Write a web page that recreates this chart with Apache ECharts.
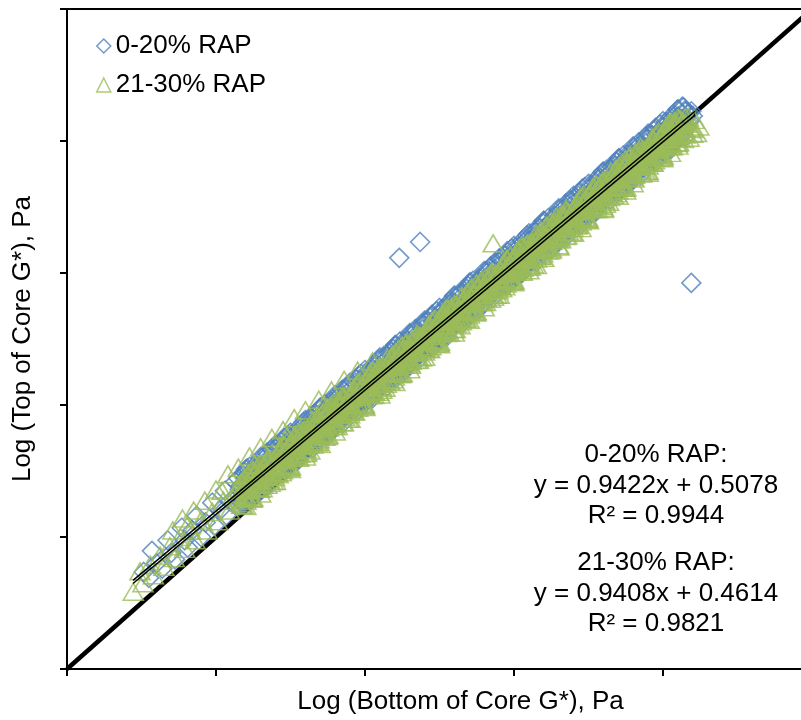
<!DOCTYPE html>
<html>
<head>
<meta charset="utf-8">
<script src="https://cdn.jsdelivr.net/npm/echarts@6/dist/echarts.min.js"></script>
<style>
html, body { margin: 0; padding: 0; background: #fff; }
#chart { width: 801px; height: 720px; }
</style>
</head>
<body>
<div id="chart"></div>
<script>
// Regression summary for each RAP group
const seriesNames = ['0-20% RAP', '21-30% RAP'];
const slopes = [0.9422, 0.9408];
const intercepts = [0.5078, 0.4614];
const rSquared = [0.9944, 0.9821];
const trendRange = [0.886, 8.43];
const equalityLine = [[0, 0], [10, 10]];

// Log G* pairs: [bottom of core, top of core]
const rap0to20 = [
  [1.03,1.47],[1.10,1.38],[1.14,1.79],[1.20,1.60],[1.28,1.52],[1.35,1.95],[1.40,1.76],[1.45,1.66],
  [1.54,2.14],[1.58,1.95],[1.62,1.84],[1.68,2.10],[1.74,2.32],[1.80,2.00],[1.86,2.22],[1.95,2.52],
  [1.98,2.17],[2.05,2.40],[2.12,2.70],[2.14,2.33],[2.20,2.55],[2.26,2.84],[2.28,2.47],
  [2.3,2.89],[2.325,2.55],[2.35,2.76],[2.375,2.52],[2.4,2.9],[2.425,2.73],[2.45,3.06],[2.475,2.65],[2.5,2.95],[2.525,2.78],
  [2.55,3.08],[2.575,2.69],[2.6,2.97],[2.625,2.81],[2.65,3.2],[2.675,3.01],[2.7,3.16],[2.725,2.87],[2.75,3.33],[2.775,3.03],
  [2.8,2.95],[2.825,3.24],[2.85,3.06],[2.875,3.44],[2.9,3.23],[2.925,3.41],[2.95,3.04],[2.975,3.36],[3.0,3.17],[3.025,3.56],
  [3.05,3.31],[3.075,3.53],[3.1,3.21],[3.125,3.63],[3.15,3.44],[3.175,3.74],[3.2,3.38],[3.225,3.61],[3.25,3.38],[3.275,3.73],
  [3.3,3.65],[3.325,3.43],[3.35,3.85],[3.375,3.59],[3.4,3.96],[3.425,3.56],[3.45,3.84],[3.475,3.75],[3.5,3.97],[3.525,3.6],
  [3.55,3.96],[3.575,3.76],[3.6,4.12],[3.625,3.87],[3.65,4.01],[3.675,3.77],[3.7,4.13],[3.725,3.86],[3.75,4.04],[3.775,4.27],
  [3.8,4.3],[3.825,3.96],[3.85,4.18],[3.875,3.93],[3.9,4.31],[3.925,4.15],[3.95,4.47],[3.975,4.06],[4.0,4.37],[4.025,4.19],
  [4.05,4.49],[4.075,4.11],[4.1,4.38],[4.125,4.22],[4.15,4.61],[4.175,4.42],[4.2,4.58],[4.225,4.28],[4.25,4.74],[4.275,4.45],
  [4.3,4.36],[4.325,4.65],[4.35,4.48],[4.375,4.85],[4.4,4.64],[4.425,4.83],[4.45,4.45],[4.475,4.77],[4.5,4.59],[4.525,4.97],
  [4.55,4.73],[4.575,4.94],[4.6,4.62],[4.625,5.05],[4.65,4.85],[4.675,5.15],[4.7,4.8],[4.725,5.02],[4.75,4.79],[4.775,5.15],
  [4.8,5.06],[4.825,4.84],[4.85,5.27],[4.875,5.0],[4.9,5.37],[4.925,4.97],[4.95,5.25],[4.975,5.17],[5.0,5.38],[5.025,5.01],
  [5.05,5.38],[5.075,5.17],[5.1,5.53],[5.125,5.29],[5.15,5.42],[5.175,5.18],[5.2,5.55],[5.225,5.27],[5.25,5.45],[5.275,5.68],
  [5.3,5.71],[5.325,5.38],[5.35,5.59],[5.375,5.34],[5.4,5.73],[5.425,5.56],[5.45,5.88],[5.475,5.48],[5.5,5.78],[5.525,5.6],
  [5.55,5.91],[5.575,5.52],[5.6,5.8],[5.625,5.64],[5.65,6.02],[5.675,5.84],[5.7,5.99],[5.725,5.69],[5.75,6.16],[5.775,5.86],
  [5.8,5.77],[5.825,6.07],[5.85,5.89],[5.875,6.26],[5.9,6.06],[5.925,6.24],[5.95,5.86],[5.975,6.19],[6.0,6.0],[6.025,6.39],
  [6.05,6.14],[6.075,6.35],[6.1,6.04],[6.125,6.46],[6.15,6.26],[6.175,6.57],[6.2,6.21],[6.225,6.43],[6.25,6.21],[6.275,6.56],
  [6.3,6.47],[6.325,6.26],[6.35,6.68],[6.375,6.42],[6.4,6.79],[6.425,6.38],[6.45,6.67],[6.475,6.58],[6.5,6.79],[6.525,6.43],
  [6.55,6.79],[6.575,6.58],[6.6,6.95],[6.625,6.7],[6.65,6.83],[6.675,6.6],[6.7,6.96],[6.725,6.68],[6.75,6.87],[6.775,7.09],
  [6.8,7.13],[6.825,6.79],[6.85,7.0],[6.875,6.76],[6.9,7.14],[6.925,6.97],[6.95,7.3],[6.975,6.89],[7.0,7.19],[7.025,7.02],
  [7.05,7.32],[7.075,6.93],[7.1,7.21],[7.125,7.05],[7.15,7.44],[7.175,7.25],[7.2,7.4],[7.225,7.11],[7.25,7.57],[7.275,7.27],
  [7.3,7.19],[7.325,7.48],[7.35,7.3],[7.375,7.68],[7.4,7.47],[7.425,7.65],[7.45,7.28],[7.475,7.6],[7.5,7.41],[7.525,7.8],
  [7.55,7.55],[7.575,7.77],[7.6,7.45],[7.625,7.87],[7.65,7.68],[7.675,7.98],[7.7,7.62],[7.725,7.85],[7.75,7.62],[7.775,7.97],
  [7.8,7.89],[7.825,7.67],[7.85,8.09],[7.875,7.83],[7.9,8.2],[7.925,7.8],[7.95,8.08],[7.975,7.99],[8.0,8.21],[8.025,7.84],
  [8.05,8.2],[8.075,8.0],[8.1,8.36],[8.125,8.11],[8.15,8.25],[8.175,8.01],[8.2,8.37],[8.225,8.1],[8.25,8.28],[8.275,8.51],
  [2.31,2.48],[2.335,2.78],[2.36,2.6],[2.385,2.98],[2.41,2.77],[2.435,2.95],[2.46,2.58],[2.485,2.9],[2.51,2.71],[2.535,3.1],
  [2.56,2.85],[2.585,3.06],[2.61,2.75],[2.635,3.17],[2.66,2.97],[2.685,3.28],[2.71,2.92],[2.735,3.14],[2.76,2.92],[2.785,3.27],
  [2.81,3.19],[2.835,2.97],[2.86,3.39],[2.885,3.13],[2.91,3.5],[2.935,3.09],[2.96,3.38],[2.985,3.29],[3.01,3.5],[3.035,3.14],
  [3.06,3.5],[3.085,3.29],[3.11,3.66],[3.135,3.41],[3.16,3.55],[3.185,3.31],[3.21,3.67],[3.235,3.4],[3.26,3.58],[3.285,3.8],
  [3.31,3.84],[3.335,3.5],[3.36,3.71],[3.385,3.47],[3.41,3.85],[3.435,3.68],[3.46,4.01],[3.485,3.6],[3.51,3.9],[3.535,3.73],
  [3.56,4.03],[3.585,3.65],[3.61,3.92],[3.635,3.76],[3.66,4.15],[3.685,3.96],[3.71,4.11],[3.735,3.82],[3.76,4.28],[3.785,3.98],
  [3.81,3.9],[3.835,4.19],[3.86,4.01],[3.885,4.39],[3.91,4.18],[3.935,4.37],[3.96,3.99],[3.985,4.31],[4.01,4.13],[4.035,4.51],
  [4.06,4.26],[4.085,4.48],[4.11,4.16],[4.135,4.58],[4.16,4.39],[4.185,4.69],[4.21,4.33],[4.235,4.56],[4.26,4.33],[4.285,4.69],
  [4.31,4.6],[4.335,4.38],[4.36,4.81],[4.385,4.54],[4.41,4.91],[4.435,4.51],[4.46,4.79],[4.485,4.7],[4.51,4.92],[4.535,4.55],
  [4.56,4.91],[4.585,4.71],[4.61,5.07],[4.635,4.82],[4.66,4.96],[4.685,4.72],[4.71,5.09],[4.735,4.81],[4.76,4.99],[4.785,5.22],
  [4.81,5.25],[4.835,4.91],[4.86,5.13],[4.885,4.88],[4.91,5.26],[4.935,5.1],[4.96,5.42],[4.985,5.01],[5.01,5.32],[5.035,5.14],
  [5.06,5.45],[5.085,5.06],[5.11,5.33],[5.135,5.18],[5.16,5.56],[5.185,5.37],[5.21,5.53],[5.235,5.23],[5.26,5.69],[5.285,5.4],
  [5.31,5.31],[5.335,5.61],[5.36,5.43],[5.385,5.8],[5.41,5.6],[5.435,5.78],[5.46,5.4],[5.485,5.73],[5.51,5.54],[5.535,5.92],
  [5.56,5.68],[5.585,5.89],[5.61,5.57],[5.635,6.0],[5.66,5.8],[5.685,6.1],[5.71,5.75],[5.735,5.97],[5.76,5.75],[5.785,6.1],
  [5.81,6.01],[5.835,5.8],[5.86,6.22],[5.885,5.95],[5.91,6.33],[5.935,5.92],[5.96,6.2],[5.985,6.12],[6.01,6.33],[6.035,5.96],
  [6.06,6.33],[6.085,6.12],[6.11,6.49],[6.135,6.24],[6.16,6.37],[6.185,6.14],[6.21,6.5],[6.235,6.22],[6.26,6.41],[6.285,6.63],
  [6.31,6.66],[6.335,6.33],[6.36,6.54],[6.385,6.29],[6.41,6.68],[6.435,6.51],[6.46,6.83],[6.485,6.43],[6.51,6.73],[6.535,6.56],
  [6.56,6.86],[6.585,6.47],[6.61,6.75],[6.635,6.59],[6.66,6.97],[6.685,6.79],[6.71,6.94],[6.735,6.64],[6.76,7.11],[6.785,6.81],
  [6.81,6.72],[6.835,7.02],[6.86,6.84],[6.885,7.22],[6.91,7.01],[6.935,7.19],[6.96,6.82],[6.985,7.14],[7.01,6.95],[7.035,7.34],
  [7.06,7.09],[7.085,7.3],[7.11,6.99],[7.135,7.41],[7.16,7.21],[7.185,7.52],[7.21,7.16],[7.235,7.38],[7.26,7.16],[7.285,7.51],
  [7.31,7.43],[7.335,7.21],[7.36,7.63],[7.385,7.37],[7.41,7.74],[7.435,7.33],[7.46,7.62],[7.485,7.53],[7.51,7.74],[7.535,7.38],
  [7.56,7.74],[7.585,7.53],[7.61,7.9],[7.635,7.65],[7.66,7.79],[7.685,7.55],[7.71,7.91],[7.735,7.64],[7.76,7.82],[7.785,8.04],
  [7.81,8.08],[7.835,7.74],[7.86,7.95],[7.885,7.71],[7.91,8.09],[7.935,7.92],[7.96,8.25],[7.985,7.84],[8.01,8.14],[8.035,7.97],
  [8.06,8.27],[8.085,7.89],[8.11,8.16],[8.135,8.0],[8.16,8.39],[8.185,8.2],[8.21,8.35],[8.235,8.06],[8.26,8.52],[8.285,8.22],
  [2.318,2.72],[2.343,2.51],[2.368,2.93],[2.393,2.66],[2.418,3.04],[2.443,2.63],[2.468,2.91],[2.493,2.83],[2.518,3.04],[2.543,2.67],
  [2.568,3.04],[2.593,2.83],[2.618,3.2],[2.643,2.95],[2.668,3.08],[2.693,2.85],[2.718,3.21],[2.743,2.93],[2.768,3.12],[2.793,3.34],
  [2.818,3.37],[2.843,3.04],[2.868,3.25],[2.893,3.0],[2.918,3.39],[2.943,3.22],[2.968,3.54],[2.993,3.14],[3.018,3.44],[3.043,3.27],
  [3.068,3.57],[3.093,3.18],[3.118,3.46],[3.143,3.3],[3.168,3.68],[3.193,3.5],[3.218,3.65],[3.243,3.35],[3.268,3.82],[3.293,3.52],
  [3.318,3.43],[3.343,3.73],[3.368,3.55],[3.393,3.93],[3.418,3.72],[3.443,3.9],[3.468,3.53],[3.493,3.85],[3.518,3.66],[3.543,4.05],
  [3.568,3.8],[3.593,4.01],[3.618,3.7],[3.643,4.12],[3.668,3.92],[3.693,4.23],[3.718,3.87],[3.743,4.09],[3.768,3.87],[3.793,4.22],
  [3.818,4.14],[3.843,3.92],[3.868,4.34],[3.893,4.08],[3.918,4.45],[3.943,4.04],[3.968,4.33],[3.993,4.24],[4.018,4.45],[4.043,4.09],
  [4.068,4.45],[4.093,4.24],[4.118,4.61],[4.143,4.36],[4.168,4.5],[4.193,4.26],[4.218,4.62],[4.243,4.35],[4.268,4.53],[4.293,4.75],
  [4.318,4.79],[4.343,4.45],[4.368,4.66],[4.393,4.42],[4.418,4.8],[4.443,4.63],[4.468,4.96],[4.493,4.55],[4.518,4.85],[4.543,4.68],
  [4.568,4.98],[4.593,4.6],[4.618,4.87],[4.643,4.71],[4.668,5.1],[4.693,4.91],[4.718,5.06],[4.743,4.77],[4.768,5.23],[4.793,4.93],
  [4.818,4.85],[4.843,5.14],[4.868,4.96],[4.893,5.34],[4.918,5.13],[4.943,5.32],[4.968,4.94],[4.993,5.26],[5.018,5.08],[5.043,5.46],
  [5.068,5.21],[5.093,5.43],[5.118,5.11],[5.143,5.53],[5.168,5.34],[5.193,5.64],[5.218,5.28],[5.243,5.51],[5.268,5.28],[5.293,5.64],
  [5.318,5.55],[5.343,5.33],[5.368,5.76],[5.393,5.49],[5.418,5.86],[5.443,5.46],[5.468,5.74],[5.493,5.65],[5.518,5.87],[5.543,5.5],
  [5.568,5.87],[5.593,5.66],[5.618,6.02],[5.643,5.78],[5.668,5.91],[5.693,5.67],[5.718,6.04],[5.743,5.76],[5.768,5.94],[5.793,6.17],
  [5.818,6.2],[5.843,5.86],[5.868,6.08],[5.893,5.83],[5.918,6.21],[5.943,6.05],[5.968,6.37],[5.993,5.97],[6.018,6.27],[6.043,6.09],
  [6.068,6.4],[6.093,6.01],[6.118,6.28],[6.143,6.13],[6.168,6.51],[6.193,6.32],[6.218,6.48],[6.243,6.18],[6.268,6.64],[6.293,6.35],
  [6.318,6.26],[6.343,6.56],[6.368,6.38],[6.393,6.75],[6.418,6.55],[6.443,6.73],[6.468,6.35],[6.493,6.68],[6.518,6.49],[6.543,6.87],
  [6.568,6.63],[6.593,6.84],[6.618,6.52],[6.643,6.95],[6.668,6.75],[6.693,7.05],[6.718,6.7],[6.743,6.92],[6.768,6.7],[6.793,7.05],
  [6.818,6.96],[6.843,6.75],[6.868,7.17],[6.893,6.9],[6.918,7.28],[6.943,6.87],[6.968,7.15],[6.993,7.07],[7.018,7.28],[7.043,6.91],
  [7.068,7.28],[7.093,7.07],[7.118,7.44],[7.143,7.19],[7.168,7.32],[7.193,7.09],[7.218,7.45],[7.243,7.17],[7.268,7.36],[7.293,7.58],
  [7.318,7.61],[7.343,7.28],[7.368,7.49],[7.393,7.24],[7.418,7.63],[7.443,7.46],[7.468,7.78],[7.493,7.38],[7.518,7.68],[7.543,7.51],
  [7.568,7.81],[7.593,7.42],[7.618,7.7],[7.643,7.54],[7.668,7.92],[7.693,7.74],[7.718,7.89],[7.743,7.59],[7.768,8.06],[7.793,7.76],
  [7.818,7.67],[7.843,7.97],[7.868,7.79],[7.893,8.17],[7.918,7.96],[7.943,8.14],[7.968,7.77],[7.993,8.09],[8.018,7.9],[8.043,8.29],
  [8.068,8.04],[8.093,8.25],[8.118,7.94],[8.143,8.36],[8.168,8.16],[8.193,8.47],[8.218,8.11],[8.243,8.33],[8.268,8.11],[8.293,8.46],
  [2.4,3.02],[2.6,3.21],[2.8,3.40],[3.0,3.58],[3.2,3.77],[3.4,3.96],[3.6,4.15],[3.8,4.34],[4.0,4.53],[4.2,4.72],
  [4.4,4.90],[4.6,5.09],[4.8,5.28],[5.0,5.47],[5.2,5.66],[5.4,5.85],[5.6,6.03],[5.8,6.22],[6.0,6.41],[6.2,6.60],
  [6.4,6.79],[6.6,6.98],[6.8,7.17],[7.0,7.35],[7.2,7.54],[7.4,7.73],[7.6,7.92],[7.8,8.11],[8.0,8.30],[8.2,8.48],
  [2.5,2.59],[2.7,2.78],[2.9,2.97],[3.1,3.16],[3.3,3.35],[3.5,3.54],[3.7,3.72],[3.9,3.91],[4.1,4.10],[4.3,4.29],
  [4.5,4.48],[4.7,4.67],[4.9,4.86],[5.1,5.04],[5.3,5.23],[5.5,5.42],[5.7,5.61],[5.9,5.80],[6.1,5.99],[6.3,6.17],
  [6.5,6.36],[6.7,6.55],[6.9,6.74],[7.1,6.93],[7.3,7.12],[7.5,7.30],[7.7,7.49],[7.9,7.68],[8.1,7.87],[8.3,8.06],
  [8.3,8.33],[8.3,8.44],[8.32,8.2],[8.34,8.42],[8.36,8.3],[8.38,8.45],[8.4,8.38],
  [4.46,6.23],[4.74,6.47],[8.38,5.85]
];

const rap21to30 = [
  [0.89,1.17],[0.98,1.48],[1.02,1.30],[1.12,1.58],[1.16,1.42],[1.25,1.72],[1.30,1.55],[1.38,1.86],
  [1.42,2.10],[1.44,1.68],[1.52,2.00],[1.55,2.28],[1.58,1.82],[1.62,2.18],[1.66,2.10],[1.70,2.40],
  [1.72,1.95],[1.80,2.25],[1.85,2.55],[1.88,2.10],[1.95,2.38],[2.00,2.72],[2.02,2.24],[2.08,2.70],
  [2.10,2.55],[2.16,2.95],[2.18,2.40],[2.24,2.65],[2.30,3.05],[2.45,3.22],[2.52,3.10],[2.60,3.36],
  [2.75,3.50],[2.90,3.62],[2.95,3.52],[3.05,3.80],[3.20,3.92],[3.38,4.08],[3.45,4.00],[3.55,4.22],
  [3.72,4.38],[3.90,4.52],[4.10,4.66],
  [2.31,2.59],[2.335,2.82],[2.36,2.49],[2.385,2.8],[2.41,2.61],[2.435,2.95],[2.46,2.76],[2.485,2.58],[2.51,2.94],[2.535,2.76],
  [2.56,2.92],[2.585,2.73],[2.61,3.1],[2.635,2.9],[2.66,3.07],[2.685,2.79],[2.71,3.15],[2.735,2.93],[2.76,3.08],[2.785,2.91],
  [2.81,3.22],[2.835,2.95],[2.86,3.18],[2.885,3.1],[2.91,3.39],[2.935,3.08],[2.96,3.32],[2.985,3.06],[3.01,3.44],[3.035,3.31],
  [3.06,3.54],[3.085,3.26],[3.11,3.2],[3.135,3.54],[3.16,3.38],[3.185,3.63],[3.21,3.33],[3.235,3.57],[3.26,3.31],[3.285,3.64],
  [3.31,3.45],[3.335,3.64],[3.36,3.81],[3.385,3.48],[3.41,3.75],[3.435,3.63],[3.46,3.52],[3.485,3.87],[3.51,3.66],[3.535,3.97],
  [3.56,3.78],[3.585,3.94],[3.61,3.72],[3.635,3.89],[3.66,4.07],[3.685,3.85],[3.71,3.74],[3.735,4.1],[3.76,4.07],[3.785,3.9],
  [3.81,4.0],[3.835,4.23],[3.86,3.9],[3.885,4.21],[3.91,4.02],[3.935,4.36],[3.96,4.17],[3.985,3.99],[4.01,4.35],[4.035,4.17],
  [4.06,4.33],[4.085,4.15],[4.11,4.51],[4.135,4.31],[4.16,4.48],[4.185,4.2],[4.21,4.56],[4.235,4.34],[4.26,4.49],[4.285,4.32],
  [4.31,4.63],[4.335,4.36],[4.36,4.59],[4.385,4.51],[4.41,4.8],[4.435,4.49],[4.46,4.73],[4.485,4.47],[4.51,4.85],[4.535,4.72],
  [4.56,4.95],[4.585,4.68],[4.61,4.61],[4.635,4.95],[4.66,4.79],[4.685,5.04],[4.71,4.74],[4.735,4.98],[4.76,4.72],[4.785,5.05],
  [4.81,4.86],[4.835,5.05],[4.86,5.22],[4.885,4.89],[4.91,5.16],[4.935,5.05],[4.96,4.93],[4.985,5.28],[5.01,5.08],[5.035,5.38],
  [5.06,5.19],[5.085,5.36],[5.11,5.13],[5.135,5.3],[5.16,5.48],[5.185,5.26],[5.21,5.15],[5.235,5.51],[5.26,5.48],[5.285,5.32],
  [5.31,5.41],[5.335,5.64],[5.36,5.31],[5.385,5.62],[5.41,5.43],[5.435,5.78],[5.46,5.58],[5.485,5.4],[5.51,5.77],[5.535,5.58],
  [5.56,5.74],[5.585,5.56],[5.61,5.92],[5.635,5.72],[5.66,5.89],[5.685,5.61],[5.71,5.97],[5.735,5.75],[5.76,5.9],[5.785,5.74],
  [5.81,6.04],[5.835,5.77],[5.86,6.0],[5.885,5.92],[5.91,6.21],[5.935,5.91],[5.96,6.14],[5.985,5.88],[6.01,6.27],[6.035,6.13],
  [6.06,6.36],[6.085,6.09],[6.11,6.02],[6.135,6.36],[6.16,6.2],[6.185,6.45],[6.21,6.15],[6.235,6.39],[6.26,6.13],[6.285,6.47],
  [6.31,6.27],[6.335,6.46],[6.36,6.64],[6.385,6.3],[6.41,6.57],[6.435,6.46],[6.46,6.34],[6.485,6.69],[6.51,6.49],[6.535,6.79],
  [6.56,6.6],[6.585,6.77],[6.61,6.54],[6.635,6.71],[6.66,6.89],[6.685,6.67],[6.71,6.57],[6.735,6.92],[6.76,6.89],[6.785,6.73],
  [6.81,6.82],[6.835,7.05],[6.86,6.73],[6.885,7.03],[6.91,6.84],[6.935,7.19],[6.96,6.99],[6.985,6.81],[7.01,7.18],[7.035,6.99],
  [7.06,7.15],[7.085,6.97],[7.11,7.33],[7.135,7.13],[7.16,7.3],[7.185,7.02],[7.21,7.39],[7.235,7.16],[7.26,7.31],[7.285,7.15],
  [7.31,7.45],[7.335,7.18],[7.36,7.42],[7.385,7.33],[7.41,7.62],[7.435,7.32],[7.46,7.55],[7.485,7.29],[7.51,7.68],[7.535,7.54],
  [7.56,7.78],[7.585,7.5],[7.61,7.43],[7.635,7.78],[7.66,7.61],[7.685,7.86],[7.71,7.57],[7.735,7.8],[7.76,7.54],[7.785,7.88],
  [7.81,7.68],[7.835,7.87],[7.86,8.05],[7.885,7.71],[7.91,7.98],[7.935,7.87],[7.96,7.75],[7.985,8.1],[8.01,7.9],[8.035,8.2],
  [8.06,8.02],[8.085,8.18],[8.11,7.95],[8.135,8.13],[8.16,8.3],[8.185,8.08],[8.21,7.98],[8.235,8.33],[8.26,8.3],[8.285,8.14],
  [2.318,2.75],[2.343,2.49],[2.368,2.72],[2.393,2.63],[2.418,2.93],[2.443,2.62],[2.468,2.85],[2.493,2.6],[2.518,2.98],[2.543,2.85],
  [2.568,3.08],[2.593,2.8],[2.618,2.74],[2.643,3.08],[2.668,2.91],[2.693,3.17],[2.718,2.87],[2.743,3.1],[2.768,2.85],[2.793,3.18],
  [2.818,2.98],[2.843,3.18],[2.868,3.35],[2.893,3.01],[2.918,3.29],[2.943,3.17],[2.968,3.05],[2.993,3.41],[3.018,3.2],[3.043,3.51],
  [3.068,3.32],[3.093,3.48],[3.118,3.26],[3.143,3.43],[3.168,3.6],[3.193,3.39],[3.218,3.28],[3.243,3.63],[3.268,3.61],[3.293,3.44],
  [3.318,3.53],[3.343,3.77],[3.368,3.44],[3.393,3.74],[3.418,3.56],[3.443,3.9],[3.468,3.7],[3.493,3.53],[3.518,3.89],[3.543,3.71],
  [3.568,3.87],[3.593,3.68],[3.618,4.05],[3.643,3.85],[3.668,4.01],[3.693,3.74],[3.718,4.1],[3.743,3.87],[3.768,4.03],[3.793,3.86],
  [3.818,4.16],[3.843,3.9],[3.868,4.13],[3.893,4.05],[3.918,4.34],[3.943,4.03],[3.968,4.27],[3.993,4.01],[4.018,4.39],[4.043,4.26],
  [4.068,4.49],[4.093,4.21],[4.118,4.15],[4.143,4.49],[4.168,4.32],[4.193,4.58],[4.218,4.28],[4.243,4.51],[4.268,4.26],[4.293,4.59],
  [4.318,4.39],[4.343,4.59],[4.368,4.76],[4.393,4.43],[4.418,4.7],[4.443,4.58],[4.468,4.47],[4.493,4.82],[4.518,4.61],[4.543,4.92],
  [4.568,4.73],[4.593,4.89],[4.618,4.67],[4.643,4.84],[4.668,5.01],[4.693,4.8],[4.718,4.69],[4.743,5.04],[4.768,5.02],[4.793,4.85],
  [4.818,4.95],[4.843,5.18],[4.868,4.85],[4.893,5.16],[4.918,4.97],[4.943,5.31],[4.968,5.12],[4.993,4.94],[5.018,5.3],[5.043,5.12],
  [5.068,5.28],[5.093,5.09],[5.118,5.46],[5.143,5.26],[5.168,5.43],[5.193,5.15],[5.218,5.51],[5.243,5.29],[5.268,5.44],[5.293,5.27],
  [5.318,5.58],[5.343,5.31],[5.368,5.54],[5.393,5.46],[5.418,5.75],[5.443,5.44],[5.468,5.68],[5.493,5.42],[5.518,5.8],[5.543,5.67],
  [5.568,5.9],[5.593,5.62],[5.618,5.56],[5.643,5.9],[5.668,5.74],[5.693,5.99],[5.718,5.69],[5.743,5.93],[5.768,5.67],[5.793,6.0],
  [5.818,5.81],[5.843,6.0],[5.868,6.17],[5.893,5.84],[5.918,6.11],[5.943,5.99],[5.968,5.88],[5.993,6.23],[6.018,6.02],[6.043,6.33],
  [6.068,6.14],[6.093,6.3],[6.118,6.08],[6.143,6.25],[6.168,6.43],[6.193,6.21],[6.218,6.1],[6.243,6.46],[6.268,6.43],[6.293,6.26],
  [6.318,6.36],[6.343,6.59],[6.368,6.26],[6.393,6.57],[6.418,6.38],[6.443,6.72],[6.468,6.53],[6.493,6.35],[6.518,6.71],[6.543,6.53],
  [6.568,6.69],[6.593,6.51],[6.618,6.87],[6.643,6.67],[6.668,6.84],[6.693,6.56],[6.718,6.92],[6.743,6.7],[6.768,6.85],[6.793,6.68],
  [6.818,6.99],[6.843,6.72],[6.868,6.95],[6.893,6.87],[6.918,7.16],[6.943,6.85],[6.968,7.09],[6.993,6.83],[7.018,7.21],[7.043,7.08],
  [7.068,7.31],[7.093,7.04],[7.118,6.97],[7.143,7.31],[7.168,7.15],[7.193,7.4],[7.218,7.1],[7.243,7.34],[7.268,7.08],[7.293,7.41],
  [7.318,7.22],[7.343,7.41],[7.368,7.58],[7.393,7.25],[7.418,7.52],[7.443,7.41],[7.468,7.29],[7.493,7.64],[7.518,7.44],[7.543,7.74],
  [7.568,7.55],[7.593,7.72],[7.618,7.49],[7.643,7.66],[7.668,7.84],[7.693,7.62],[7.718,7.51],[7.743,7.87],[7.768,7.84],[7.793,7.68],
  [7.818,7.77],[7.843,8.0],[7.868,7.67],[7.893,7.98],[7.918,7.79],[7.943,8.14],[7.968,7.94],[7.993,7.76],[8.018,8.13],[8.043,7.94],
  [8.068,8.1],[8.093,7.92],[8.118,8.28],[8.143,8.08],[8.168,8.25],[8.193,7.97],[8.218,8.33],[8.243,8.11],[8.268,8.26],[8.293,8.1],
  [2.326,2.52],[2.351,2.71],[2.376,2.89],[2.401,2.55],[2.426,2.82],[2.451,2.71],[2.476,2.59],[2.501,2.95],[2.526,2.74],[2.551,3.04],
  [2.576,2.86],[2.601,3.02],[2.626,2.79],[2.651,2.97],[2.676,3.14],[2.701,2.92],[2.726,2.82],[2.751,3.17],[2.776,3.14],[2.801,2.98],
  [2.826,3.07],[2.851,3.3],[2.876,2.98],[2.901,3.28],[2.926,3.09],[2.951,3.44],[2.976,3.24],[3.001,3.07],[3.026,3.43],[3.051,3.24],
  [3.076,3.41],[3.101,3.22],[3.126,3.58],[3.151,3.39],[3.176,3.55],[3.201,3.27],[3.226,3.64],[3.251,3.41],[3.276,3.56],[3.301,3.4],
  [3.326,3.7],[3.351,3.43],[3.376,3.67],[3.401,3.58],[3.426,3.87],[3.451,3.57],[3.476,3.8],[3.501,3.55],[3.526,3.93],[3.551,3.79],
  [3.576,4.03],[3.601,3.75],[3.626,3.68],[3.651,4.03],[3.676,3.86],[3.701,4.11],[3.726,3.82],[3.751,4.05],[3.776,3.79],[3.801,4.13],
  [3.826,3.93],[3.851,4.13],[3.876,4.3],[3.901,3.96],[3.926,4.24],[3.951,4.12],[3.976,4.0],[4.001,4.36],[4.026,4.15],[4.051,4.45],
  [4.076,4.27],[4.101,4.43],[4.126,4.2],[4.151,4.38],[4.176,4.55],[4.201,4.33],[4.226,4.23],[4.251,4.58],[4.276,4.56],[4.301,4.39],
  [4.326,4.48],[4.351,4.72],[4.376,4.39],[4.401,4.69],[4.426,4.51],[4.451,4.85],[4.476,4.65],[4.501,4.48],[4.526,4.84],[4.551,4.65],
  [4.576,4.82],[4.601,4.63],[4.626,4.99],[4.651,4.8],[4.676,4.96],[4.701,4.68],[4.726,5.05],[4.751,4.82],[4.776,4.98],[4.801,4.81],
  [4.826,5.11],[4.851,4.85],[4.876,5.08],[4.901,4.99],[4.926,5.29],[4.951,4.98],[4.976,5.21],[5.001,4.96],[5.026,5.34],[5.051,5.2],
  [5.076,5.44],[5.101,5.16],[5.126,5.1],[5.151,5.44],[5.176,5.27],[5.201,5.53],[5.226,5.23],[5.251,5.46],[5.276,5.21],[5.301,5.54],
  [5.326,5.34],[5.351,5.54],[5.376,5.71],[5.401,5.37],[5.426,5.65],[5.451,5.53],[5.476,5.41],[5.501,5.77],[5.526,5.56],[5.551,5.86],
  [5.576,5.68],[5.601,5.84],[5.626,5.62],[5.651,5.79],[5.676,5.96],[5.701,5.75],[5.726,5.64],[5.751,5.99],[5.776,5.97],[5.801,5.8],
  [5.826,5.89],[5.851,6.13],[5.876,5.8],[5.901,6.1],[5.926,5.92],[5.951,6.26],[5.976,6.06],[6.001,5.89],[6.026,6.25],[6.051,6.06],
  [6.076,6.23],[6.101,6.04],[6.126,6.41],[6.151,6.21],[6.176,6.37],[6.201,6.1],[6.226,6.46],[6.251,6.23],[6.276,6.39],[6.301,6.22],
  [6.326,6.52],[6.351,6.26],[6.376,6.49],[6.401,6.4],[6.426,6.7],[6.451,6.39],[6.476,6.62],[6.501,6.37],[6.526,6.75],[6.551,6.62],
  [6.576,6.85],[6.601,6.57],[6.626,6.51],[6.651,6.85],[6.676,6.68],[6.701,6.94],[6.726,6.64],[6.751,6.87],[6.776,6.62],[6.801,6.95],
  [6.826,6.75],[6.851,6.95],[6.876,7.12],[6.901,6.78],[6.926,7.06],[6.951,6.94],[6.976,6.82],[7.001,7.18],[7.026,6.97],[7.051,7.28],
  [7.076,7.09],[7.101,7.25],[7.126,7.03],[7.151,7.2],[7.176,7.37],[7.201,7.16],[7.226,7.05],[7.251,7.4],[7.276,7.38],[7.301,7.21],
  [7.326,7.3],[7.351,7.54],[7.376,7.21],[7.401,7.52],[7.426,7.33],[7.451,7.67],[7.476,7.48],[7.501,7.3],[7.526,7.66],[7.551,7.48],
  [7.576,7.64],[7.601,7.45],[7.626,7.82],[7.651,7.62],[7.676,7.78],[7.701,7.51],[7.726,7.87],[7.751,7.64],[7.776,7.8],[7.801,7.63],
  [7.826,7.93],[7.851,7.67],[7.876,7.9],[7.901,7.82],[7.926,8.11],[7.951,7.8],[7.976,8.04],[8.001,7.78],[8.026,8.16],[8.051,8.03],
  [8.076,8.26],[8.101,7.98],[8.126,7.92],[8.151,8.26],[8.176,8.09],[8.201,8.35],[8.226,8.05],[8.251,8.28],[8.276,8.03],[8.301,8.36],
  [2.4,2.47],[2.6,2.66],[2.8,2.85],[3.0,3.03],[3.2,3.22],[3.4,3.41],[3.6,3.60],[3.8,3.79],[4.0,3.97],[4.2,4.16],
  [4.4,4.35],[4.6,4.54],[4.8,4.73],[5.0,4.92],[5.2,5.10],[5.4,5.29],[5.6,5.48],[5.8,5.67],[6.0,5.86],[6.2,6.04],
  [6.4,6.23],[6.6,6.42],[6.8,6.61],[7.0,6.80],[7.2,6.99],[7.4,7.17],[7.6,7.36],[7.8,7.55],[8.0,7.74],[8.2,7.93],[8.4,8.11],
  [2.5,3.01],[2.7,3.20],[2.9,3.39],[3.1,3.58],[3.3,3.77],[3.5,3.95],[3.7,4.14],[3.9,4.33],[4.1,4.52],[4.3,4.71],
  [4.5,4.90],[4.7,5.08],[4.9,5.27],[5.1,5.46],[5.3,5.65],[5.5,5.84],[5.7,6.02],[5.9,6.21],[6.1,6.40],[6.3,6.59],
  [6.5,6.78],[6.7,6.97],[6.9,7.15],[7.1,7.34],[7.3,7.53],[7.5,7.72],[7.7,7.91],[7.9,8.09],[8.1,8.28],
  [6.3,6.12],[6.6,6.4],[6.9,6.68],[7.2,6.97],[7.5,7.25],[7.8,7.52],[8.1,7.82],[8.35,8.05],
  [8.31,8.26],[8.34,8.36],[8.37,8.2],[8.4,8.18],[8.42,8.32],[8.45,8.12],[8.48,8.22],
  [5.72,6.45]
];

const blue = '#4F81BD';
const green = '#9BBB59';
const font = '"Liberation Sans", Arial, sans-serif';

function trendPoints(i) {
  return trendRange.map(x => [x, slopes[i] * x + intercepts[i]]);
}

const chart = echarts.init(document.getElementById('chart'), null, { renderer: 'canvas' });

const axisCommon = {
  type: 'value',
  min: 0,
  max: 10,
  interval: 2,
  axisLine: { show: true, onZero: false, lineStyle: { color: '#000', width: 2 } },
  axisTick: { show: true, inside: false, length: 7, lineStyle: { color: '#000', width: 2 } },
  axisLabel: { show: false },
  splitLine: { show: false },
  nameLocation: 'middle',
  nameTextStyle: { fontSize: 26, color: '#000', fontFamily: font }
};

const annX = 656;
const annotation = [
  { text: seriesNames[0] + ':', y: 455 },
  { text: 'y = ' + slopes[0].toFixed(4) + 'x + ' + intercepts[0].toFixed(4), y: 486 },
  { text: 'R² = ' + rSquared[0].toFixed(4), y: 516 },
  { text: seriesNames[1] + ':', y: 563 },
  { text: 'y = ' + slopes[1].toFixed(4) + 'x + ' + intercepts[1].toFixed(4), y: 594 },
  { text: 'R² = ' + rSquared[1].toFixed(4), y: 624 }
];

chart.setOption({
  animation: false,
  backgroundColor: '#fff',
  grid: {
    left: 67, top: 9, width: 745, height: 660,
    outerBoundsMode: 'none',
    containLabel: false,
    show: true, borderColor: '#000', borderWidth: 2, backgroundColor: 'transparent'
  },
  xAxis: Object.assign({}, axisCommon, {
    name: 'Log (Bottom of Core G*), Pa',
    nameGap: 20,
    nameTextStyle: Object.assign({}, axisCommon.nameTextStyle, { padding: [0, 0, 0, 42] })
  }),
  yAxis: Object.assign({}, axisCommon, {
    name: 'Log (Top of Core G*), Pa',
    nameGap: 31
  }),
  legend: {
    orient: 'vertical',
    left: 91,
    top: 28,
    itemWidth: 14,
    itemHeight: 14,
    itemGap: 13,
    textStyle: { fontSize: 26, color: '#000', fontFamily: font },
    data: [
      { name: seriesNames[0], icon: 'diamond', itemStyle: { color: 'transparent', borderColor: blue, borderWidth: 1.5 } },
      { name: seriesNames[1], icon: 'triangle', itemStyle: { color: 'transparent', borderColor: green, borderWidth: 1.5 } }
    ]
  },
  graphic: annotation.map(a => ({
    type: 'text',
    x: annX,
    y: a.y,
    z: 100,
    style: { text: a.text, font: '26px ' + font, fill: '#000', textAlign: 'center', textVerticalAlign: 'middle' }
  })),
  series: [
    {
      type: 'line',
      data: equalityLine,
      symbol: 'none',
      z: 1,
      silent: true,
      lineStyle: { color: '#000', width: 4.5 }
    },
    {
      name: seriesNames[0],
      type: 'scatter',
      data: rap0to20,
      symbol: 'diamond',
      symbolSize: 19,
      z: 2,
      silent: true,
      itemStyle: { color: 'rgba(0,0,0,0)', borderColor: blue, borderWidth: 1.6 }
    },
    {
      name: seriesNames[1],
      type: 'scatter',
      data: rap21to30,
      symbol: 'triangle',
      symbolSize: [20, 17],
      z: 3,
      silent: true,
      itemStyle: { color: 'rgba(0,0,0,0)', borderColor: green, borderWidth: 1.6 }
    },
    {
      type: 'line',
      data: trendPoints(0),
      symbol: 'none',
      z: 4,
      silent: true,
      lineStyle: { color: '#000', width: 1.5 }
    },
    {
      type: 'line',
      data: trendPoints(1),
      symbol: 'none',
      z: 4,
      silent: true,
      lineStyle: { color: '#000', width: 1.5 }
    }
  ]
});
</script>
</body>
</html>
